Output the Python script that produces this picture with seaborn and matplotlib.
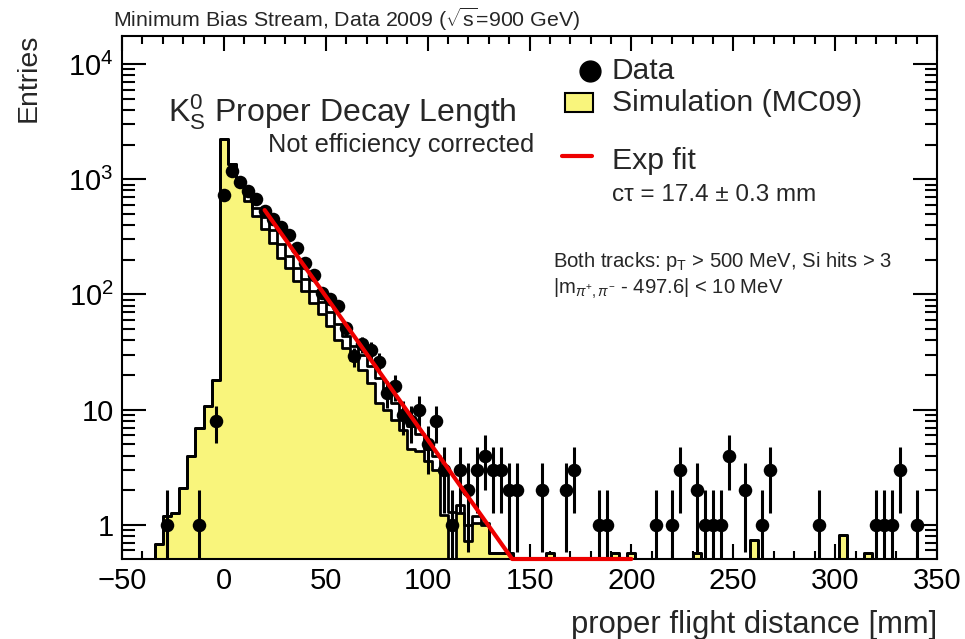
import matplotlib
import numpy as np
import pandas as pd
import seaborn as sns

matplotlib.use("Agg")
import matplotlib.pyplot as plt
from matplotlib.lines import Line2D
from matplotlib.patches import Rectangle
from matplotlib.ticker import FixedLocator, MultipleLocator, LogLocator, NullFormatter

# binning: 4 mm bins from -50 to 350 mm
bin_edges = list(range(-50, 351, 4))

# data (entries per bin)
data_x = [-28, -12, -4, 0, 4, 8, 12, 16, 20, 24, 28, 32, 36, 40, 44, 48, 52, 56, 60,
          64, 68, 72, 76, 80, 84, 88, 92, 96, 100, 104, 108, 112, 116, 120, 124, 128,
          132, 136, 140, 144, 156, 168, 172, 184, 188, 212, 220, 224, 232, 236, 240,
          244, 248, 256, 264, 268, 292, 320, 324, 328, 332, 340]
data_n = [1, 1, 8, 730, 1170, 950, 790, 670, 530, 450, 385, 325, 255, 186, 149, 103,
          92, 79, 51, 29, 37, 33, 26, 14, 16, 9, 8, 10, 5, 8, 3, 1, 3, 2, 3, 4,
          3, 3, 2, 2, 2, 2, 3, 1, 1, 1, 1, 3, 2, 1, 1,
          1, 4, 2, 1, 3, 1, 1, 1, 1, 3, 1]

# simulation (MC09), filled histogram
mc_x = [-32, -28, -24, -20, -16, -12, -8, -4, 0, 4, 8, 12, 16, 20, 24, 28, 32, 36, 40,
        44, 48, 52, 56, 60, 64, 68, 72, 76, 80, 84, 88, 92, 96, 100, 104, 108,
        116, 120, 124, 128, 132, 136, 140, 160, 192, 200, 232, 260, 304, 316]
mc_w = [0.68, 1.2, 1.27, 2.1, 4.0, 6.9, 10.7, 18, 2230, 1350, 950, 650, 480, 367,
        281, 208, 171, 131, 107, 85, 67, 53, 40.6, 34.4, 27.2, 22.3, 17.1, 11.4, 10,
        8.2, 6.7, 4.6, 4.4, 3.6, 3.0, 1.22,
        1.27, 0.72, 1.03, 1.03, 0.57, 0.57, 0.57, 0.57, 0.57, 0.57, 0.57, 0.74, 0.82,
        0.57]

# second simulation outline (unfilled), lies above the filled one from ~8 to ~130 mm
mc2_x = [-32, -28, -24, -20, -16, -12, -8, -4, 0, 4, 8, 12, 16, 20, 24, 28, 32, 36,
         40, 44, 48, 52, 56, 60, 64, 68, 72, 76, 80, 84, 88, 92, 96, 100, 104, 108,
         112, 116, 120, 124, 128, 132, 136, 140, 160, 192, 200, 232, 260, 304, 316]
mc2_w = [0.68, 1.2, 1.27, 2.1, 4.0, 6.9, 10.7, 18, 2230, 1350, 980, 760, 567, 470,
         360, 275, 215, 170, 135, 108, 86, 70, 55, 44, 36, 30, 24, 19, 14, 11.5, 9.5,
         7.2, 6.2, 4.6, 4.0, 3.0, 1.3, 1.5, 1.0, 1.2, 1.0, 0.57, 0.57, 0.57, 0.57,
         0.57, 0.57, 0.57, 0.74, 0.82, 0.57]

# exponential fit, c tau = 17.4 mm (ends on the lower frame edge)
fit_x = [20, 141.5, 200]
fit_y = [540, 0.506, 0.506]

W, H = 965, 639
YELLOW = "#F9F57C"


def fx(px):
    return px / W


def fy(py):
    return 1 - py / H


sns.set_theme(style="ticks")
plt.rcParams["font.family"] = ["Liberation Sans", "DejaVu Sans"]
plt.rcParams["mathtext.fontset"] = "custom"
plt.rcParams["mathtext.rm"] = "Liberation Sans"
plt.rcParams["mathtext.it"] = "Liberation Sans:italic"
plt.rcParams["mathtext.bf"] = "Liberation Sans:bold"

fig = plt.figure(figsize=(W / 100, H / 100), dpi=100, facecolor="white")
ax = fig.add_axes([fx(122), fy(559), fx(937) - fx(122), fy(36) - fy(559)])
ax.set_facecolor("white")

mc = pd.DataFrame({"x": mc_x, "w": mc_w})
mc2 = pd.DataFrame({"x": mc2_x, "w": mc2_w})
sns.histplot(data=mc, x="x", weights="w", bins=bin_edges, element="step", fill=True,
             color=YELLOW, alpha=1, edgecolor="black", linewidth=2, ax=ax)
sns.histplot(data=mc2, x="x", weights="w", bins=bin_edges, element="step", fill=False,
             color="black", linewidth=2, ax=ax)

ax.errorbar(data_x, data_n, yerr=np.sqrt(data_n), fmt="none", ecolor="black",
            elinewidth=2.2, zorder=4)
sns.scatterplot(x=data_x, y=data_n, color="black", s=95, edgecolor="black",
                linewidth=0, zorder=5, ax=ax)

ax.plot(fit_x, fit_y, color="#EE0000", lw=3, zorder=6, clip_on=False)

ax.set_yscale("log")
ax.set_xlim(-50, 350)
ax.set_ylim(0.506, 17500)
ax.set_xlabel("")
ax.set_ylabel("")

ax.xaxis.set_major_locator(MultipleLocator(50))
ax.xaxis.set_minor_locator(MultipleLocator(10))
ax.yaxis.set_major_locator(FixedLocator([1, 10, 100, 1000, 10000]))
ax.yaxis.set_minor_locator(LogLocator(base=10, subs=np.arange(2, 10)))
ax.yaxis.set_minor_formatter(NullFormatter())
ax.set_yticklabels(["1", "10", "$10^{2}$", "$10^{3}$", "$10^{4}$"])
ax.tick_params(which="both", direction="in", top=True, right=True, colors="black",
               labelsize=21, width=1.5)
ax.tick_params(axis="x", which="major", length=11, pad=6)
ax.tick_params(axis="x", which="minor", length=5.5)
ax.tick_params(axis="y", which="major", length=17, pad=6)
ax.tick_params(axis="y", which="minor", length=9)
for spine in ax.spines.values():
    spine.set_linewidth(1.5)
    spine.set_color("black")

fig.text(fx(29), fy(34), "Entries", rotation=90, ha="center", va="top", fontsize=20.5)
fig.text(fx(937), fy(633), "proper flight distance [mm]", ha="right", va="baseline",
         fontsize=22.3)
fig.text(fx(113), fy(27), r"Minimum Bias Stream, Data 2009 ($\sqrt{\mathrm{s}}$=900 GeV)",
         ha="left", va="baseline", fontsize=15.4)

fig.text(fx(168), fy(122), r"$\mathrm{K^{0}_{S}}$ Proper Decay Length", ha="left",
         va="baseline", fontsize=23)
fig.text(fx(268), fy(152), "Not efficiency corrected", ha="left", va="baseline",
         fontsize=18.3)

# legend, drawn by hand like the ROOT TLegend
fig.add_artist(Line2D([fx(590)], [fy(71)], marker="o", markersize=15, color="black",
                      transform=fig.transFigure))
fig.add_artist(Rectangle((fx(565), fy(112)), fx(28), fy(93) - fy(112), facecolor=YELLOW,
                         edgecolor="black", linewidth=1.5, transform=fig.transFigure))
fig.add_artist(Line2D([fx(562), fx(592)], [fy(156), fy(156)], color="#EE0000", lw=3,
                      transform=fig.transFigure))
fig.text(fx(612), fy(79), "Data", ha="left", va="baseline", fontsize=21.5)
fig.text(fx(612), fy(111), "Simulation (MC09)", ha="left", va="baseline", fontsize=21.8)
fig.text(fx(612), fy(169), "Exp fit", ha="left", va="baseline", fontsize=21.8)
fig.text(fx(612), fy(201), "c\u03c4 = 17.4 \u00b1 0.3 mm", ha="left", va="baseline",
         fontsize=17.5)
fig.text(fx(553), fy(267), r"Both tracks: p$_{\mathrm{T}}$ > 500 MeV, Si hits > 3",
         ha="left", va="baseline", fontsize=14.6)
fig.text(fx(553), fy(294), r"|m$_{\pi^{+},\pi^{-}}$ - 497.6| < 10 MeV",
         ha="left", va="baseline", fontsize=14.6)

fig.savefig("out.png", dpi=100, facecolor="white")
